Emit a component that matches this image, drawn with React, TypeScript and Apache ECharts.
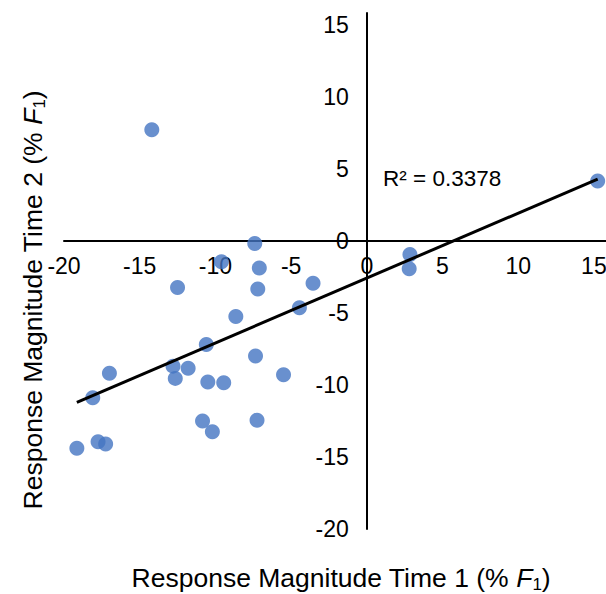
import React, { useEffect, useRef } from "react";
import * as echarts from "echarts";

const time1: number[] = [
  -14.2, -9.6, -12.5, -7.4, -7.1, -7.2, -3.55, -4.45, -8.65, -10.6, -7.35, -12.8, -11.8, -12.65,
  -5.5, -10.5, -9.45, -10.85, -10.2, -7.25, -17.0, -18.1, -19.15, -17.75, -17.25, 2.85, 2.8, 15.25,
];
const time2: number[] = [
  7.7, -1.45, -3.25, -0.2, -1.9, -3.35, -2.95, -4.65, -5.25, -7.2, -8.0, -8.7, -8.85, -9.55,
  -9.3, -9.8, -9.85, -12.5, -13.25, -12.45, -9.2, -10.9, -14.4, -13.95, -14.1, -0.95, -1.95, 4.15,
];
const rSquaredLabel = "R² = 0.3378";
const xTitle = "Response Magnitude Time 1 (% ";
const yTitle = "Response Magnitude Time 2 (% ";

const AXIS_MIN = -20;
const AXIS_MAX = 15.8;

function fitLine(xs: number[], ys: number[]) {
  const n = xs.length;
  const mx = xs.reduce((a, b) => a + b, 0) / n;
  const my = ys.reduce((a, b) => a + b, 0) / n;
  let sxy = 0, sxx = 0;
  for (let i = 0; i < n; i++) {
    sxy += (xs[i] - mx) * (ys[i] - my);
    sxx += (xs[i] - mx) * (xs[i] - mx);
  }
  const slope = sxy / sxx;
  const icpt = my - slope * mx;
  const x0 = Math.min(...xs);
  const x1 = Math.max(...xs);
  return [
    [x0, icpt + slope * x0],
    [x1, icpt + slope * x1],
  ];
}

export default function App() {
  const ref = useRef<HTMLDivElement>(null);
  useEffect(() => {
    if (!ref.current) return;
    const chart = echarts.init(ref.current, undefined, { renderer: "svg" });
    const points = time1.map((x, i) => [x, time2[i]]);
    const trend = fitLine(time1, time2);
    const font = "'Liberation Sans', Arial, sans-serif";
    const W = 606, H = 594;
    const gLeft = 64, gRight = 0, gTop = 13, gBottom = 65;
    const gw = W - gLeft - gRight;
    const gh = H - gTop - gBottom;
    const span = AXIS_MAX - AXIS_MIN;
    const yAxisOffset = -(gw * (0 - AXIS_MIN)) / span;
    const xAxisOffset = -(gh * (0 - AXIS_MIN)) / span;
    const titleRich = {
      a: { fontSize: 26.5, fontFamily: font, color: "#000", lineHeight: 30 },
      i: { fontSize: 26.5, fontFamily: font, color: "#000", fontStyle: "italic", lineHeight: 30 },
      s: { fontSize: 17, fontFamily: font, color: "#000", lineHeight: 30, verticalAlign: "bottom", padding: [10, 0, 0, 0] },
    };
    chart.setOption({
      animation: false,
      grid: { left: gLeft, right: gRight, top: gTop, bottom: gBottom, outerBoundsMode: "none" },
      xAxis: {
        type: "value",
        min: AXIS_MIN,
        max: AXIS_MAX,
        interval: 5,
        position: "bottom",
        offset: xAxisOffset,
        axisLine: { onZero: false, lineStyle: { color: "#000", width: 2 } },
        axisTick: { show: false },
        splitLine: { show: false },
        axisLabel: { fontSize: 23, fontFamily: font, color: "#000", margin: 14, showMaxLabel: false },
      },
      yAxis: {
        type: "value",
        min: AXIS_MIN,
        max: AXIS_MAX,
        interval: 5,
        position: "left",
        offset: yAxisOffset,
        axisLine: { onZero: false, lineStyle: { color: "#000", width: 2 } },
        axisTick: { show: false },
        splitLine: { show: false },
        axisLabel: { fontSize: 23, fontFamily: font, color: "#000", margin: 18, showMaxLabel: false },
      },
      series: [
        {
          type: "scatter",
          data: points,
          symbolSize: 15,
          itemStyle: { color: "#4474C2" },
          z: 2,
        },
        {
          type: "line",
          data: trend,
          symbol: "none",
          lineStyle: { color: "#000", width: 3 },
          z: 3,
        },
      ],
      graphic: [
        {
          type: "text",
          left: 383,
          top: 167,
          style: { text: rSquaredLabel, fontSize: 22.5, fontFamily: font, fill: "#000" },
        },
        {
          type: "text",
          x: 341,
          y: 578,
          style: {
            text: `{a|${xTitle}}{i|F}{s|1}{a|)}`,
            rich: titleRich,
            align: "center",
            verticalAlign: "middle",
          },
        },
        {
          type: "text",
          x: 33,
          y: 300,
          rotation: Math.PI / 2,
          style: {
            text: `{a|${yTitle}}{i|F}{s|1}{a|)}`,
            rich: titleRich,
            align: "center",
            verticalAlign: "middle",
          },
        },
      ],
    });
    return () => chart.dispose();
  }, []);
  return (
    <div
      ref={ref}
      style={{ position: "fixed", left: 0, top: 0, width: 606, height: 594, background: "#fff" }}
    />
  );
}
